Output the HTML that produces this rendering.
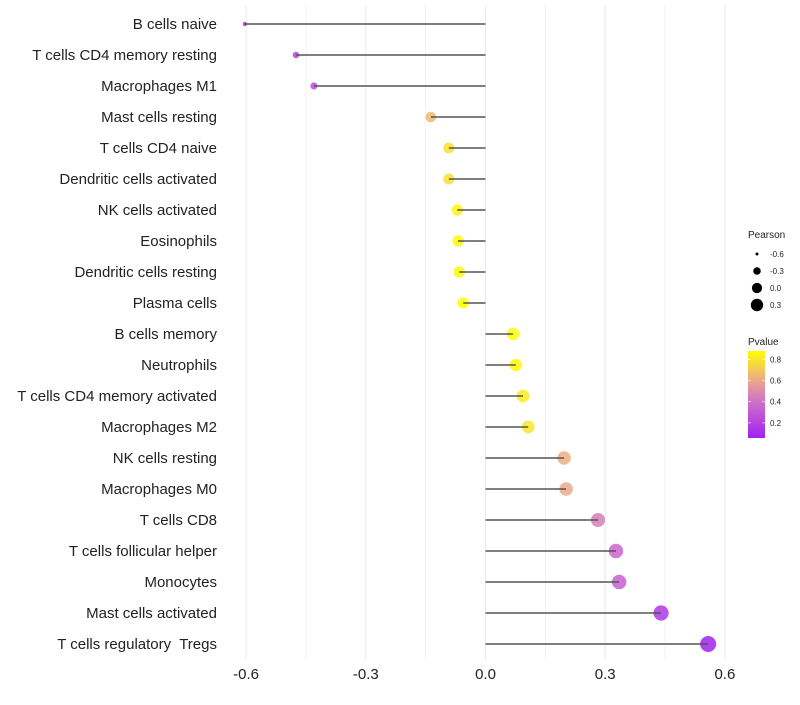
<!DOCTYPE html>
<html><head><meta charset="utf-8"><style>
body{margin:0;background:#fff;font-family:"Liberation Sans",sans-serif}
text{white-space:pre}
</style></head><body>
<svg id="chart" width="800" height="700" font-family="Liberation Sans, sans-serif"></svg>
<script>
const categories=["B cells naive","T cells CD4 memory resting","Macrophages M1","Mast cells resting","T cells CD4 naive","Dendritic cells activated","NK cells activated","Eosinophils","Dendritic cells resting","Plasma cells","B cells memory","Neutrophils","T cells CD4 memory activated","Macrophages M2","NK cells resting","Macrophages M0","T cells CD8","T cells follicular helper","Monocytes","Mast cells activated","T cells regulatory  Tregs"];
const pearson=[-0.603,-0.475,-0.43,-0.137,-0.092,-0.092,-0.071,-0.069,-0.066,-0.056,0.069,0.076,0.094,0.107,0.197,0.202,0.282,0.327,0.335,0.44,0.558];
const pvalues=[0.05,0.2,0.25,0.65,0.78,0.78,0.85,0.87,0.87,0.9,0.87,0.86,0.82,0.8,0.62,0.6,0.45,0.35,0.33,0.15,0.06];
const xTicks=[-0.6,-0.3,0,0.3,0.6];
const sizeLegend=[-0.6,-0.3,0.0,0.3];
const pLegendTicks=[0.2,0.4,0.6,0.8];
const NS="http://www.w3.org/2000/svg";
const svg=document.getElementById('chart');
function mk(t,a,p){const e=document.createElementNS(NS,t);for(const k in a)e.setAttribute(k,a[k]);(p||svg).appendChild(e);return e;}
const x=v=>485.5+v*399;
const y=i=>24+i*31;
const r=v=>Math.sqrt(Math.max(2,35.2+51.7*v));
const rl=v=>Math.sqrt(Math.max(2,26.4+40.3*v));
const stops=[[0.05,[160,32,240]],[0.4,[208,112,200]],[0.6,[236,168,140]],[0.88,[255,255,0]]];
function col(p){if(p<=stops[0][0])return`rgb(${stops[0][1]})`;for(let i=1;i<stops.length;i++){if(p<=stops[i][0]){const a=stops[i-1],b=stops[i],t=(p-a[0])/(b[0]-a[0]);return`rgb(${a[1].map((c,j)=>Math.round(c+(b[1][j]-c)*t))})`;}}return`rgb(${stops[3][1]})`;}
for(let k=0;k<9;k++){const v=-0.6+k*0.15;const g=mk('line',{x1:x(v),x2:x(v),y1:5,y2:660,stroke:'#ebebeb','stroke-width':k%2?0.6:1});}
xTicks.forEach(v=>{const t=mk('text',{x:x(v),y:679,'text-anchor':'middle','font-size':15,fill:'#222'});t.textContent=v===0?'0.0':v.toFixed(1);});
categories.forEach((c,i)=>{
const t=mk('text',{x:217,y:y(i)+5,'text-anchor':'end','font-size':15,fill:'#222'});t.textContent=c;

const d=mk('circle',{cx:x(pearson[i]),cy:y(i),r:r(pearson[i]),fill:col(pvalues[i]),'fill-opacity':0.85});

const s=mk('line',{x1:x(0),x2:x(pearson[i]),y1:y(i),y2:y(i),stroke:'#555','stroke-width':1.5});

});
let t=mk('text',{x:748,y:238,'font-size':10,fill:'#222'});t.textContent='Pearson';
sizeLegend.forEach((v,i)=>{const cy=254+i*17;const c=mk('circle',{cx:757,cy:cy,r:rl(v),fill:'#000'});
const l=mk('text',{x:770,y:cy+3,'font-size':8,fill:'#222'});l.textContent=v.toFixed(1);});
t=mk('text',{x:748,y:345,'font-size':10,fill:'#222'});t.textContent='Pvalue';
const defs=mk('defs',{});const lg=mk('linearGradient',{id:'pg',x1:0,y1:1,x2:0,y2:0},defs);
for(let k=0;k<=10;k++){const p=0.057+k*(0.88-0.057)/10;mk('stop',{offset:k/10,'stop-color':col(p)},lg);}
const bar=mk('rect',{x:748,y:351,width:17,height:87,fill:'url(#pg)'});
pLegendTicks.forEach(p=>{const yy=438-(p-0.057)/(0.823)*87;mk('line',{x1:748,x2:751,y1:yy,y2:yy,stroke:'#fff','stroke-width':0.6});mk('line',{x1:762,x2:765,y1:yy,y2:yy,stroke:'#fff','stroke-width':0.6});
const l=mk('text',{x:770,y:yy+3,'font-size':8,fill:'#222'});l.textContent=p.toFixed(1);});
</script>
</body></html>
